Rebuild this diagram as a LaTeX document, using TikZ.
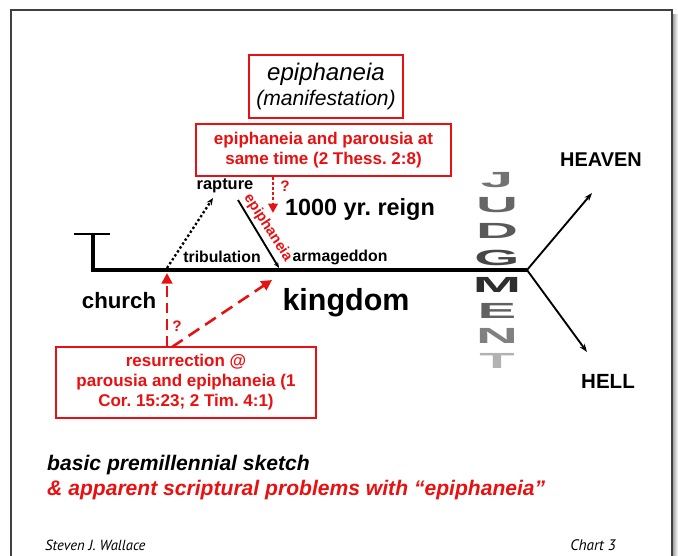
\documentclass[tikz,border=0pt]{standalone}
\usepackage{fontspec}
\setmainfont{Liberation Sans}
\newfontfamily\footfont{PT Sans}
\usetikzlibrary{arrows.meta}
\definecolor{chartred}{RGB}{232,16,16}
\frenchspacing
\tikzset{
  redbox/.style={draw=chartred, line width=1.4pt, align=center, inner sep=0pt},
  redtext/.style={text=chartred, font=\fontsize{14.5}{17}\selectfont\bfseries},
  plainlabel/.style={font=\fontsize{13.5}{16}\selectfont\bfseries},
  fate/.style={-{Stealth[length=7pt,width=5pt]}, line width=1.6pt},
  judgletter/.style={font=\fontsize{22}{22}\selectfont\bfseries, inner sep=0pt},
}
\begin{document}
\begin{tikzpicture}[x=0.03cm, y=-0.03cm]
    \useasboundingbox (0,0) rectangle (678,555);
    \clip (0,0) rectangle (678,555);
    % frame with shadow at the right
    \fill[left color=gray!85, right color=white] (672,14) rectangle (678,555);
    \draw[line width=1.2pt, black!75] (11,10) rectangle (672,575);

    % the boxes
    \node[redbox, minimum width=4.62cm, minimum height=1.89cm,
          font=\fontsize{20.5}{21.5}\selectfont\itshape] (manif) at (326,86.5)
          {\raisebox{-4pt}{epiphaneia}\\[1pt]\raisebox{-3pt}{\fontsize{18}{21}\selectfont(manifestation)}};
    \node[redbox, redtext, minimum width=7.65cm, minimum height=1.56cm]
          (sametime) at (323.5,150) {epiphaneia and parousia at\\same time (2 Thess. 2:8)};
    \node[redbox, redtext, minimum width=7.8cm, minimum height=2.13cm]
          (resur) at (186,382.5) {resurrection @\\parousia and epiphaneia (1\\Cor. 15:23; 2 Tim. 4:1)};

    % time line
    \coordinate (crossL) at (74,234);
    \coordinate (crossR) at (110,234);
    \coordinate (crosstop) at (93,234);
    \coordinate (start) at (93,270);
    \coordinate (fork) at (527,270);
    \coordinate (heavenend) at (592,193);
    \coordinate (hellend) at (587,352);
    \draw[line width=1.5pt] (crossL) -- (crossR);
    \draw[line width=3.2pt, line join=miter] (crosstop) -- (start) -- (fork);
    \draw[fate] (fork) -- (heavenend);
    \draw[fate] (fork) -- (hellend);

    % rapture and epiphaneia
    \coordinate (raptfoot) at (167,268);
    \coordinate (raptend) at (213,198);
    \coordinate (epitop) at (238,200);
    \coordinate (epifoot) at (279,268);
    \draw[line width=2pt, dotted, -{Stealth[length=6pt,width=5pt]}] (raptfoot) -- (raptend);
    \draw[line width=1.6pt, -{Stealth[length=5pt,width=4pt]}] (epitop) -- (epifoot);
    \node[text=chartred, font=\fontsize{12.5}{14}\selectfont\bfseries, rotate=-57, inner sep=0pt]
          (epilabel) at (268,228) {epiphaneia};

    % labels
    \node[plainlabel, font=\fontsize{14}{16}\selectfont\bfseries] (rapture) at (225,186) {rapture};
    \node[font=\fontsize{20}{24}\selectfont\bfseries] (reign) at (360,209) {1000 yr. reign};
    \node[plainlabel] (trib) at (222,257) {tribulation};
    \node[plainlabel] (armag) at (340,257) {armageddon};
    \node[font=\fontsize{19}{22}\selectfont\bfseries] (church) at (119,301) {church};
    \node[font=\fontsize{26}{30}\selectfont\bfseries] (kingdom) at (346,303) {kingdom};
    \node[font=\fontsize{17}{20}\selectfont\bfseries] (heaven) at (601,160) {HEAVEN};
    \node[font=\fontsize{17.5}{20}\selectfont\bfseries] (hell) at (608,381) {HELL};

    % red question arrows
    \coordinate (reigntip) at (273,213);
    \coordinate (churchtip) at (167,273);
    \coordinate (kingfoot) at (172,347);
    \coordinate (kingtip) at (272,280);
    \draw[chartred, line width=2.4pt, dotted, -{Triangle[length=8pt,width=8pt]}]
          (sametime.south -| reigntip) -- (reigntip);
    \draw[chartred, line width=2.2pt, dash pattern=on 9pt off 5pt, -{Triangle[length=9pt,width=9pt]}]
          (resur.north -| churchtip) -- (churchtip);
    \draw[chartred, line width=2.2pt, dash pattern=on 11pt off 6pt, -{Triangle[length=9pt,width=9pt]}]
          (kingfoot) -- (kingtip);
    \node[text=chartred, font=\fontsize{13}{15}\selectfont\bfseries] (qtop) at (285,186) {?};
    \node[text=chartred, font=\fontsize{13}{15}\selectfont\bfseries] (qlow) at (177,326) {?};

    % JUDGMENT
    \foreach \ch/\yy/\shade in {J/180/55, U/205/60, D/231/65, G/258/72,
                                M/285/82, E/311/62, N/336/50, T/361/30}
        \node[judgletter, text=black!\shade] (judg\ch) at (497,\yy)
             {\scalebox{2.25}[0.85]{\ch}};

    % caption
    \node[anchor=west, inner sep=0pt, font=\fontsize{18}{20}\selectfont\bfseries\itshape]
          (sketch) at (47,465) {basic premillennial sketch};
    \node[anchor=west, inner sep=0pt, text=chartred, font=\fontsize{18}{20}\selectfont\bfseries\itshape]
          (problems) at (47,490) {\& apparent scriptural problems with “epiphaneia”};
    \node[anchor=west, inner sep=0pt, font=\footfont\fontsize{12.5}{14}\selectfont\itshape]
          (author) at (45,545) {Steven J. Wallace};
    \node[font=\footfont\fontsize{13}{15}\selectfont\itshape] (chart) at (593,545) {Chart 3};
\end{tikzpicture}
\end{document}
